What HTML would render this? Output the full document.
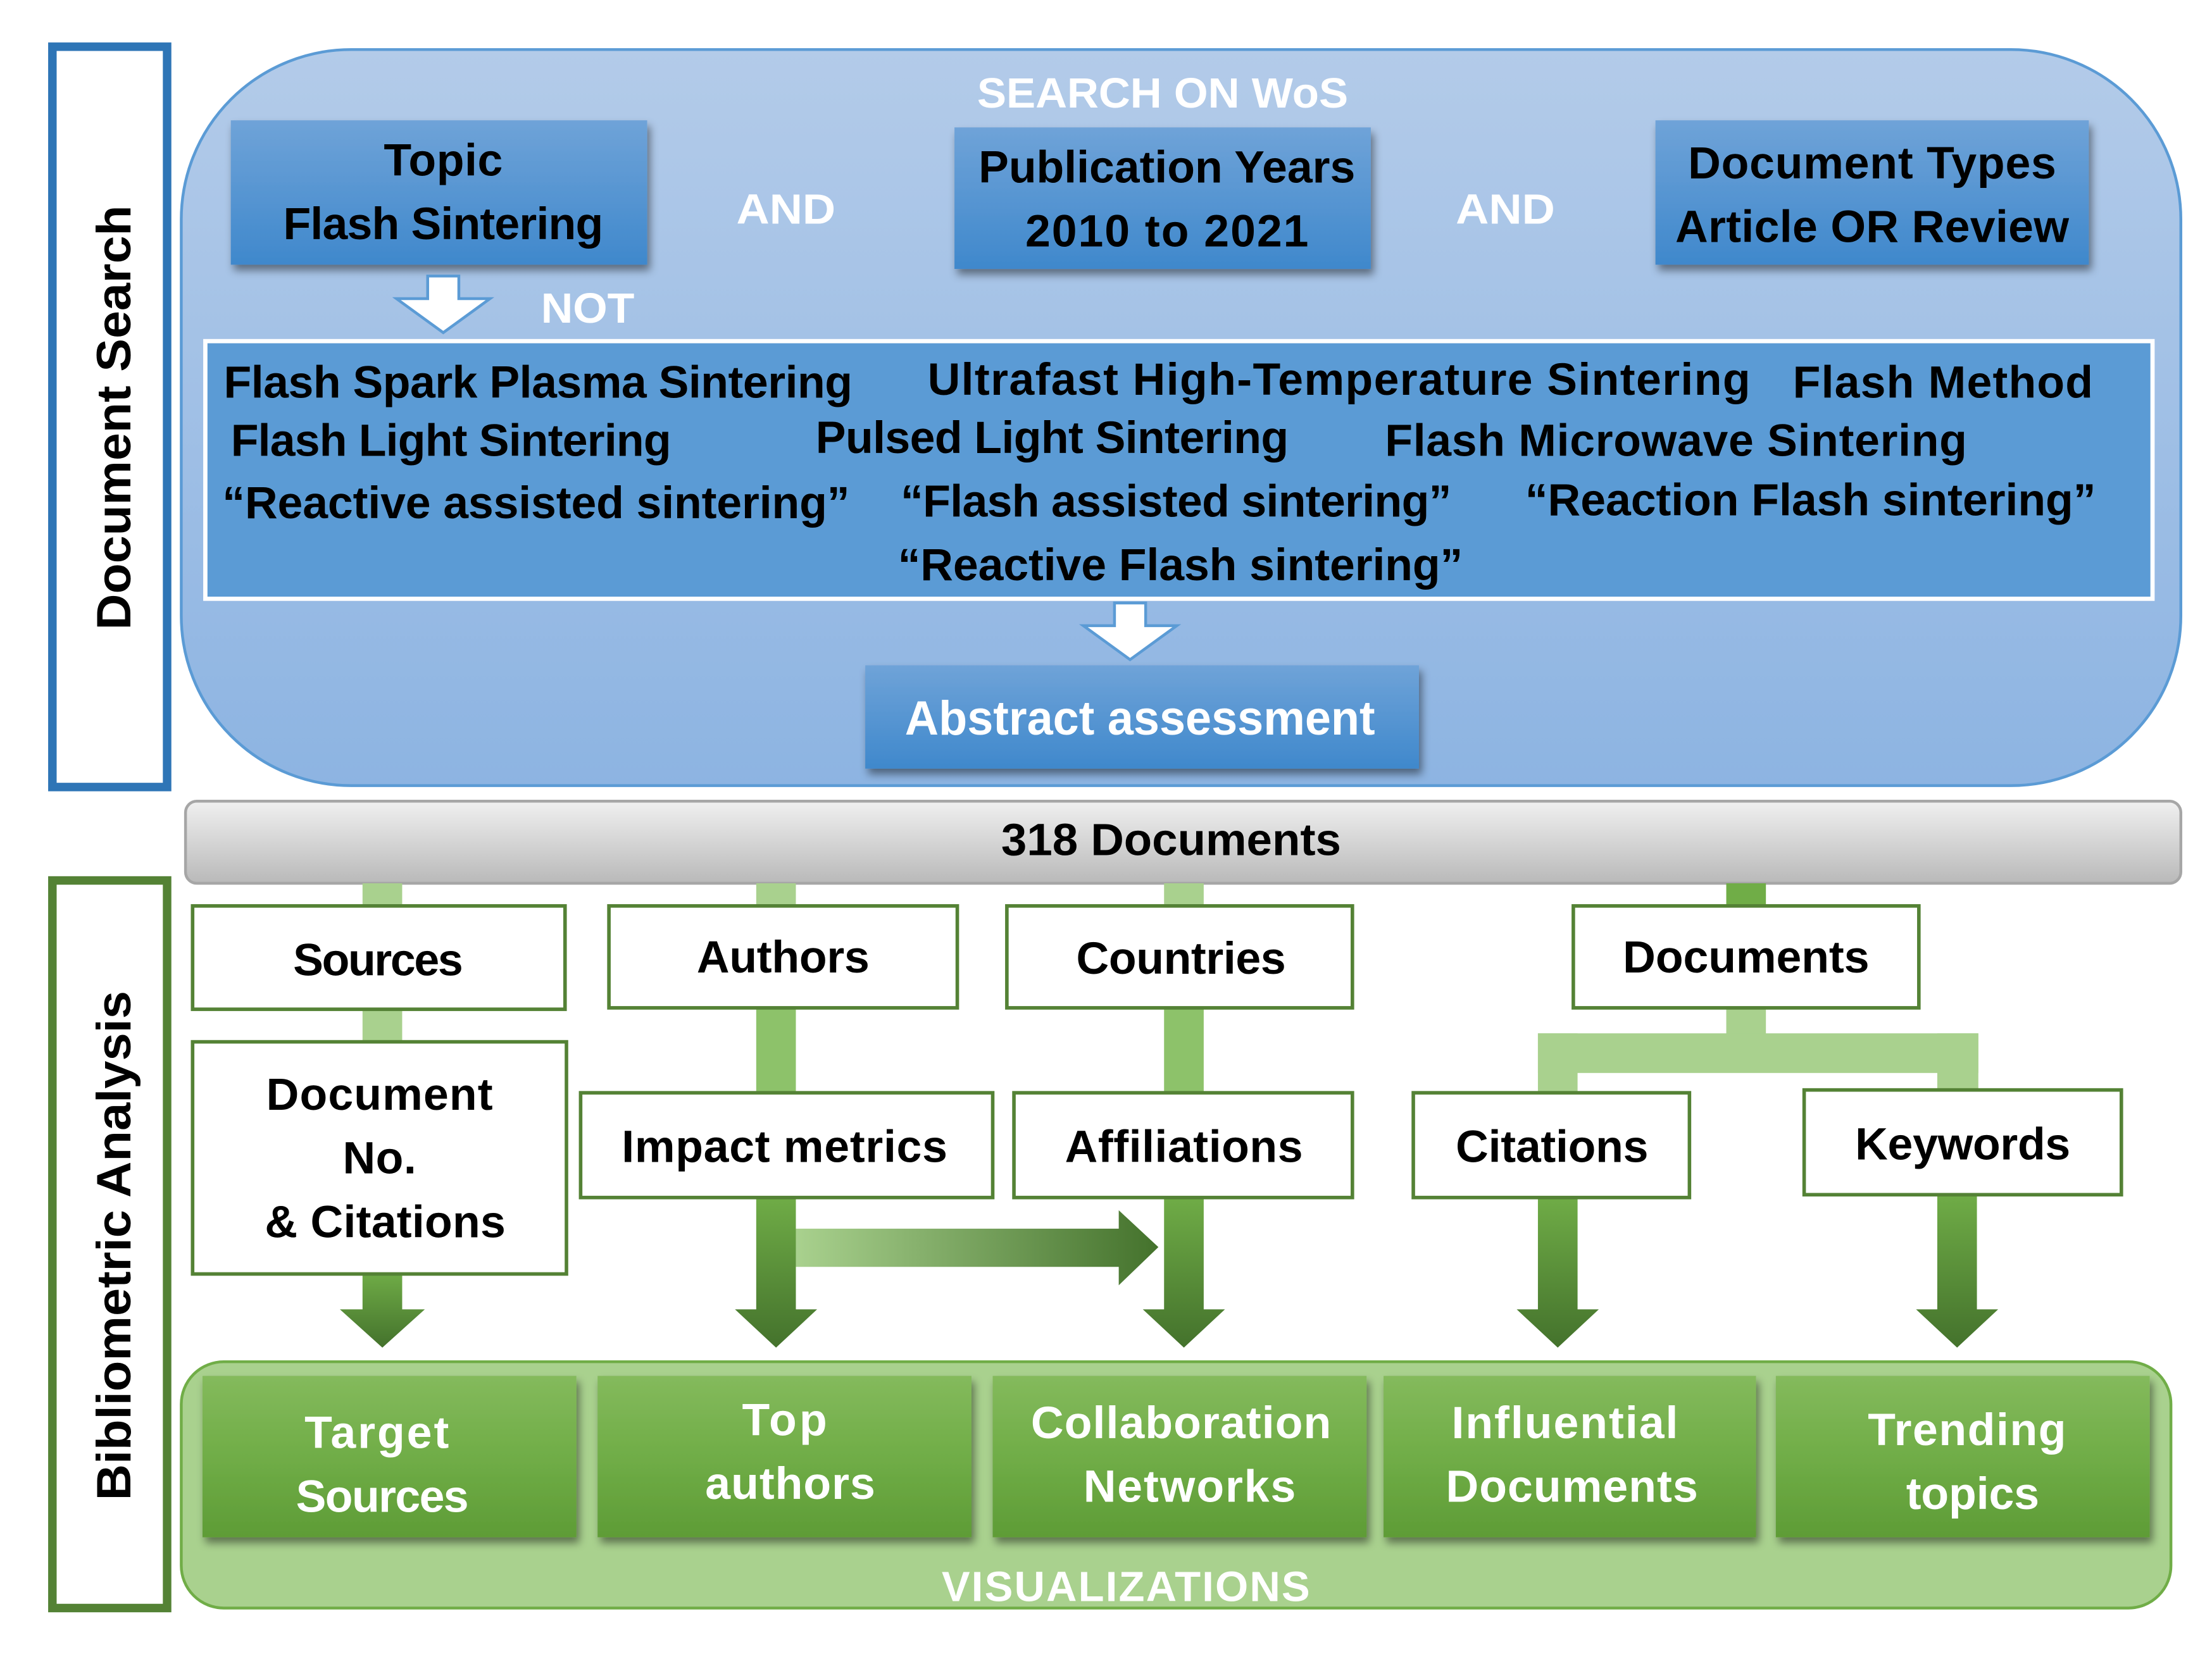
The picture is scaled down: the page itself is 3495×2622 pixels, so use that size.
<!DOCTYPE html>
<html><head><meta charset="utf-8"><style>html,body{margin:0;padding:0;background:#fff}svg{display:block}</style></head>
<body>
<svg width="3495" height="2622" viewBox="0 0 1562 1172" preserveAspectRatio="none" xmlns="http://www.w3.org/2000/svg" font-family="'Liberation Sans', sans-serif" font-weight="bold">
<defs>
<linearGradient id="bg" x1="0" y1="0" x2="0" y2="1"><stop offset="0" stop-color="#b3cbe9"/><stop offset="1" stop-color="#8db4e2"/></linearGradient>
<linearGradient id="bb" x1="0" y1="0" x2="0" y2="1"><stop offset="0" stop-color="#6fa3d8"/><stop offset="1" stop-color="#3f88cc"/></linearGradient>
<linearGradient id="gr" x1="0" y1="0" x2="0" y2="1"><stop offset="0" stop-color="#f0f0f0"/><stop offset="1" stop-color="#b9b9b9"/></linearGradient>
<linearGradient id="gb" x1="0" y1="0" x2="0" y2="1"><stop offset="0" stop-color="#84ba5c"/><stop offset="0.5" stop-color="#70ad47"/><stop offset="1" stop-color="#5e9c36"/></linearGradient>
<linearGradient id="ga" x1="0" y1="0" x2="0" y2="1"><stop offset="0" stop-color="#70ad47"/><stop offset="1" stop-color="#44722c"/></linearGradient>
<linearGradient id="gh" x1="0" y1="0" x2="1" y2="0"><stop offset="0" stop-color="#a9d18e"/><stop offset="1" stop-color="#44722c"/></linearGradient>
<filter id="sh" x="-10%" y="-10%" width="120%" height="130%"><feDropShadow dx="2" dy="4" stdDeviation="3" flood-color="#000" flood-opacity="0.45"/></filter>
</defs>
<!-- side labels -->
<rect x="37" y="33" width="81" height="523" fill="#fff" stroke="#2e75b6" stroke-width="6"/>
<text transform="translate(92,295) rotate(-90)" font-size="34" text-anchor="middle" textLength="300" lengthAdjust="spacingAndGlyphs">Document Search</text>
<rect x="37" y="622" width="81" height="514" fill="#fff" stroke="#548235" stroke-width="6"/>
<text transform="translate(92,880) rotate(-90)" font-size="34" text-anchor="middle" textLength="360" lengthAdjust="spacingAndGlyphs">Bibliometric Analysis</text>
<!-- search panel -->
<rect x="128" y="35" width="1412" height="520" rx="120" fill="url(#bg)" stroke="#5b9bd5" stroke-width="2"/>
<text x="821" y="76" fill="#fff" font-size="30" text-anchor="middle" textLength="262" lengthAdjust="spacingAndGlyphs">SEARCH ON WoS</text>
<g filter="url(#sh)">
<rect x="163" y="85" width="294" height="102" fill="url(#bb)"/>
<rect x="674" y="90" width="294" height="100" fill="url(#bb)"/>
<rect x="1169" y="85" width="306" height="102" fill="url(#bb)"/>
</g>
<g font-size="32" text-anchor="middle" lengthAdjust="spacingAndGlyphs">
<text x="313" y="124" textLength="84">Topic</text>
<text x="313" y="169" textLength="226">Flash Sintering</text>
<text x="824" y="129" textLength="266">Publication Years</text>
<text x="824" y="174" textLength="200">2010 to 2021</text>
<text x="1322" y="126" textLength="260">Document Types</text>
<text x="1322" y="171" textLength="278">Article OR Review</text>
</g>
<text x="555" y="158" fill="#fff" font-size="30" text-anchor="middle" textLength="70" lengthAdjust="spacingAndGlyphs">AND</text>
<text x="1063" y="158" fill="#fff" font-size="30" text-anchor="middle" textLength="70" lengthAdjust="spacingAndGlyphs">AND</text>
<polygon points="302,195 324,195 324,211 346,211 313,235 280,211 302,211" fill="#fff" stroke="#5b9bd5" stroke-width="2"/>
<text x="415" y="228" fill="#fff" font-size="30" text-anchor="middle" textLength="66" lengthAdjust="spacingAndGlyphs">NOT</text>
<rect x="145" y="241" width="1375" height="182" fill="#5b9bd5" stroke="#fff" stroke-width="3"/>
<g font-size="32" lengthAdjust="spacingAndGlyphs">
<text x="158" y="281" textLength="444">Flash Spark Plasma Sintering</text>
<text x="655" y="279" textLength="581">Ultrafast High-Temperature Sintering</text>
<text x="1266" y="281" textLength="212">Flash Method</text>
<text x="163" y="322" textLength="311">Flash Light Sintering</text>
<text x="576" y="320" textLength="334">Pulsed Light Sintering</text>
<text x="978" y="322" textLength="411">Flash Microwave Sintering</text>
<text x="157" y="366" textLength="443">“Reactive assisted sintering”</text>
<text x="636" y="365" textLength="389">“Flash assisted sintering”</text>
<text x="1077" y="364" textLength="403">“Reaction Flash sintering”</text>
<text x="634" y="410" textLength="399">“Reactive Flash sintering”</text>
</g>
<polygon points="787,426 809,426 809,442 831,442 798,466 765,442 787,442" fill="#fff" stroke="#5b9bd5" stroke-width="2"/>
<rect x="611" y="470" width="391" height="73" fill="url(#bb)" filter="url(#sh)"/>
<text x="805" y="519" fill="#fff" font-size="34" text-anchor="middle" textLength="332" lengthAdjust="spacingAndGlyphs">Abstract assessment</text>
<!-- 318 documents -->
<rect x="131" y="566" width="1409" height="58" rx="8" fill="url(#gr)" stroke="#a6a6a6" stroke-width="2"/>
<text x="827" y="604" font-size="32" text-anchor="middle" textLength="240" lengthAdjust="spacingAndGlyphs">318 Documents</text>
<!-- connectors -->
<g fill="#a9d18e">
<rect x="256" y="624" width="28" height="20"/><rect x="256" y="710" width="28" height="30"/>
<rect x="534" y="624" width="28" height="20"/>
<rect x="822" y="624" width="28" height="20"/>
<rect x="1219" y="708" width="28" height="26"/>
<rect x="1086" y="730" width="311" height="28"/>
<rect x="1086" y="730" width="28" height="44"/><rect x="1368" y="730" width="29" height="42"/>
</g>
<rect x="1219" y="624" width="28" height="20" fill="#70ad47"/>
<rect x="534" y="710" width="28" height="64" fill="#8dc26a"/>
<rect x="822" y="710" width="28" height="64" fill="#8dc26a"/>
<!-- arrows -->
<g fill="url(#ga)">
<polygon points="256,898 284,898 284,925 300,925 270,952 240,925 256,925"/>
<polygon points="534,844 562,844 562,925 577,925 548,952 519,925 534,925"/>
<polygon points="822,844 850,844 850,925 865,925 836,952 807,925 822,925"/>
<polygon points="1086,844 1114,844 1114,925 1129,925 1100,952 1071,925 1086,925"/>
<polygon points="1368,842 1396,842 1396,925 1411,925 1382,952 1353,925 1368,925"/>
</g>
<polygon points="562,868 790,868 790,855 818,881 790,908 790,895 562,895" fill="url(#gh)"/>
<!-- white boxes -->
<g fill="#fff" stroke="#548235" stroke-width="2.5">
<rect x="136" y="640" width="263" height="73"/>
<rect x="136" y="736" width="264" height="164"/>
<rect x="430" y="640" width="246" height="72"/>
<rect x="410" y="772" width="291" height="74"/>
<rect x="711" y="640" width="244" height="72"/>
<rect x="716" y="772" width="239" height="74"/>
<rect x="1111" y="640" width="244" height="72"/>
<rect x="998" y="772" width="195" height="74"/>
<rect x="1274" y="770" width="224" height="74"/>
</g>
<g font-size="32" text-anchor="middle" lengthAdjust="spacingAndGlyphs">
<text x="267" y="689" textLength="120">Sources</text>
<text x="268" y="784" textLength="160">Document</text>
<text x="268" y="829" textLength="52">No.</text>
<text x="272" y="874" textLength="170">&amp; Citations</text>
<text x="553" y="687" textLength="122">Authors</text>
<text x="554" y="821" textLength="230">Impact metrics</text>
<text x="834" y="688" textLength="148">Countries</text>
<text x="836" y="821" textLength="168">Affiliations</text>
<text x="1233" y="687" textLength="174">Documents</text>
<text x="1096" y="821" textLength="136">Citations</text>
<text x="1386" y="819" textLength="152">Keywords</text>
</g>
<!-- visualizations -->
<rect x="128" y="962" width="1405" height="174" rx="30" fill="#a9d18e" stroke="#70ad47" stroke-width="2"/>
<g fill="url(#gb)" filter="url(#sh)">
<rect x="143" y="972" width="264" height="114"/>
<rect x="422" y="972" width="264" height="114"/>
<rect x="701" y="972" width="264" height="114"/>
<rect x="977" y="972" width="263" height="114"/>
<rect x="1254" y="972" width="264" height="114"/>
</g>
<g font-size="32" fill="#fff" text-anchor="middle" lengthAdjust="spacingAndGlyphs">
<text x="266" y="1023" textLength="102">Target</text>
<text x="270" y="1068" textLength="122">Sources</text>
<text x="554" y="1014" textLength="60">Top</text>
<text x="558" y="1059" textLength="120">authors</text>
<text x="834" y="1016" textLength="212">Collaboration</text>
<text x="840" y="1061" textLength="150">Networks</text>
<text x="1105" y="1016" textLength="160">Influential</text>
<text x="1110" y="1061" textLength="178">Documents</text>
<text x="1389" y="1021" textLength="140">Trending</text>
<text x="1393" y="1066" textLength="94">topics</text>
<text x="795" y="1131" font-size="30" textLength="260">VISUALIZATIONS</text>
</g>
</svg>
</body></html>
